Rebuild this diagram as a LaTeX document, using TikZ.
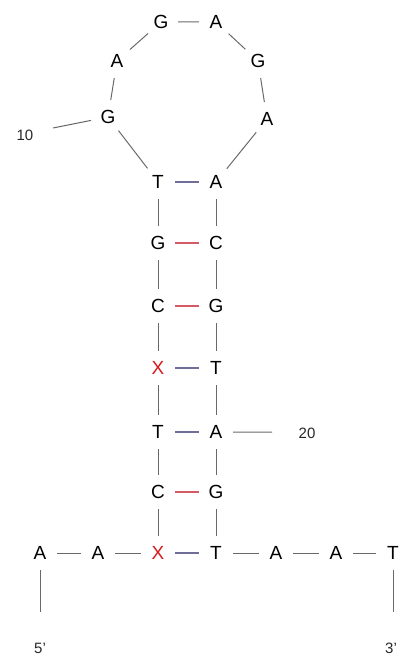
\documentclass[tikz,border=0pt]{standalone}
\usepackage{fontspec}
\setmainfont{Liberation Sans}
\definecolor{bb}{RGB}{105,105,105}
\definecolor{gcpair}{RGB}{212,90,100}
\definecolor{atpair}{RGB}{110,110,150}
\definecolor{xred}{RGB}{215,25,30}
\tikzset{
  base/.style={circle,inner sep=0pt,minimum size=34pt,font=\fontsize{19}{19}\selectfont},
  lbl/.style={inner sep=0pt,font=\fontsize{15}{15}\selectfont,text=black!85},
  bone/.style={draw=bb,line width=1pt},
  gcp/.style={draw=gcpair,line width=1.1pt},
  atp/.style={draw=atpair,line width=1.1pt},
  xb/.style={base,text=xred}
}
\begin{document}
\begin{tikzpicture}[x=1pt,y=-1pt]
\useasboundingbox (0,0) rectangle (400,660);
% loop
\node[base] (g1) at (161,22) {G};
\node[base] (a2) at (216,22) {A};
\node[base] (g3) at (258,61) {G};
\node[base] (a4) at (267,119) {A};
\node[base] (a5) at (216,182) {A};
\node[base] (t6) at (158,182) {T};
\node[base] (g7) at (108,117) {G};
\node[base] (a8) at (117,61) {A};
% stem left
\node[base] (l1) at (158,243) {G};
\node[base] (l2) at (158,306) {C};
\node[xb]   (l3) at (158,368) {X};
\node[base] (l4) at (158,432) {T};
\node[base] (l5) at (158,492) {C};
\node[xb]   (l6) at (158,553) {X};
% stem right
\node[base] (r1) at (216,243) {C};
\node[base] (r2) at (216,306) {G};
\node[base] (r3) at (216,368) {T};
\node[base] (r4) at (216,432) {A};
\node[base] (r5) at (216,492) {G};
\node[base] (r6) at (216,553) {T};
% tails
\node[base] (b1) at (40,553) {A};
\node[base] (b2) at (98,553) {A};
\node[base] (b3) at (276,553) {A};
\node[base] (b4) at (336,553) {A};
\node[base] (b5) at (393,553) {T};
% labels
\node[lbl] (n10) at (25,135) {10};
\node[lbl] (n20) at (307,433) {20};
\node[lbl] (p5) at (40,648) {5'};
\node[lbl] (p3) at (391,648) {3'};
\coordinate (c10) at (53,128);
\coordinate (c20) at (272,432);
\coordinate (e5) at (40,612);
\coordinate (e3) at (393,612);
% backbone
\draw[bone] (g1)--(a2) (a2)--(g3) (g3)--(a4) (a4)--(a5) (t6)--(g7) (g7)--(a8) (a8)--(g1);
\draw[bone] (t6)--(l1) (l1)--(l2) (l2)--(l3) (l3)--(l4) (l4)--(l5) (l5)--(l6);
\draw[bone] (a5)--(r1) (r1)--(r2) (r2)--(r3) (r3)--(r4) (r4)--(r5) (r5)--(r6);
\draw[bone] (b1)--(b2) (b2)--(l6) (r6)--(b3) (b3)--(b4) (b4)--(b5);
\draw[bone] (b1)--(e5) (b5)--(e3);
\draw[bone] (g7)--(c10) (r4)--(c20);
% pairs
\draw[atp] (t6)--(a5);
\draw[gcp] (l1)--(r1);
\draw[gcp] (l2)--(r2);
\draw[atp] (l3)--(r3);
\draw[atp] (l4)--(r4);
\draw[gcp] (l5)--(r5);
\draw[atp] (l6)--(r6);
\end{tikzpicture}
\end{document}
